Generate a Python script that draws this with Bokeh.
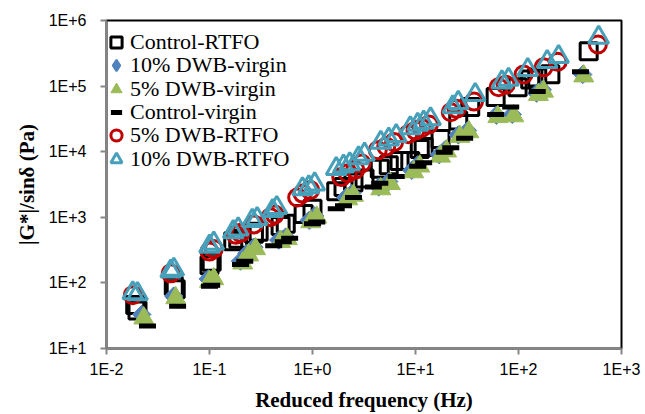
import math
from bokeh.plotting import figure
from bokeh.models import FixedTicker, CustomJSTickFormatter, Legend, LegendItem
from bokeh.embed import file_html
from bokeh.resources import INLINE

# Reduced frequency (Hz) and |G*|/sin(delta) (Pa) for each binder
ctrl_rtfo_f = [0.019, 0.020, 0.045, 0.047, 0.10, 0.105, 0.17, 0.19, 0.27, 0.30, 0.49, 0.55,
               0.82, 1.0, 1.7, 2.0, 2.5, 3.2, 4.5, 5.5, 7.0, 8.9, 11, 12, 17.5, 26, 34,
               60, 98, 130, 152, 204, 480]
ctrl_rtfo_g = [46, 38, 90, 80, 185, 210, 430, 470, 560, 600, 740, 800,
               1120, 1350, 2500, 2900, 3400, 3900, 5500, 6200, 7200, 7200, 11000, 11800, 15600, 30000, 48000,
               68000, 96000, 126000, 135000, 151000, 340000]

dwb10_virgin_f = [0.022, 0.045, 0.097, 0.20, 0.23, 0.27, 0.47, 0.55, 0.93, 1.05, 2.1, 2.4,
                  4.4, 5.5, 9.2, 10.5, 17, 19.5, 26, 32, 61, 87, 150, 170, 420]
dwb10_virgin_g = [33, 63, 115, 215, 280, 350, 450, 500, 900, 1050, 2000, 2300,
                  2900, 3500, 5200, 6300, 9000, 10800, 18000, 21000, 36000, 37000, 78000, 88000, 150000]

dwb5_virgin_f = [0.023, 0.047, 0.10, 0.11, 0.21, 0.24, 0.28, 0.49, 0.57, 0.96, 1.1, 2.2, 2.5,
                 4.6, 5.7, 9.6, 11, 17.5, 20, 27, 33, 63, 90, 156, 175, 430]
dwb5_virgin_g = [29, 59, 105, 115, 200, 265, 330, 425, 470, 850, 1000, 1900, 2150,
                 2700, 3250, 4900, 6000, 8500, 10200, 17000, 20000, 34000, 35000, 74000, 83000, 142000]

ctrl_virgin_f = [0.025, 0.049, 0.10, 0.105, 0.20, 0.22, 0.42, 0.52, 0.60, 1.0, 1.1, 1.7, 2.0,
                 2.5, 3.9, 4.5, 6.5, 10.5, 12, 19, 22, 30, 60, 84, 152, 400]
ctrl_virgin_g = [22, 44, 89, 92, 190, 213, 370, 425, 480, 800, 850, 1350, 1500,
                 2000, 2900, 3300, 4200, 6000, 6800, 9800, 11500, 16000, 37000, 48000, 83000, 166000]

dwb5_rtfo_f = [0.018, 0.042, 0.10, 0.11, 0.18, 0.20, 0.27, 0.39, 0.43, 0.71, 0.80, 0.95,
               1.9, 2.2, 2.6, 3.0, 4.3, 5.2, 6.2, 8.5, 10, 11.5, 13.5, 22, 25, 37,
               64, 75, 112, 175, 240, 590]
dwb5_rtfo_g = [65, 140, 300, 330, 540, 580, 780, 1000, 1100, 2000, 2300, 2600,
               4100, 4700, 5300, 6600, 10500, 12000, 14000, 18500, 21000, 23000, 26000, 40000, 45000, 58000,
               96000, 105000, 150000, 193000, 235000, 430000]

dwb10_rtfo_f = [0.018, 0.020, 0.042, 0.045, 0.10, 0.11, 0.17, 0.19, 0.26, 0.29, 0.41, 0.45,
                0.80, 0.92, 1.05, 1.7, 2.0, 2.3, 2.8, 3.2, 4.6, 5.5, 6.5, 8.9, 10.5, 12, 14,
                23, 26, 38, 69, 80, 123, 190, 245, 600]
dwb10_rtfo_g = [70, 68, 150, 160, 360, 400, 600, 660, 890, 950, 1260, 1400,
                2700, 2900, 3200, 5500, 6000, 6500, 8000, 9100, 13800, 15500, 17500, 23000, 26000, 28000, 31500,
                48000, 56000, 74000, 115000, 126000, 178000, 235000, 280000, 550000]

series_names = ["Control-RTFO", "10% DWB-virgin", "5% DWB-virgin",
                "Control-virgin", "5% DWB-RTFO", "10% DWB-RTFO"]

x_ticks = [0.01, 0.1, 1, 10, 100, 1000]
y_ticks = [10, 100, 1000, 10000, 100000, 1000000]

W, H = 645, 414
BORDER_L, BORDER_R, BORDER_T, BORDER_B = 106, 24, 20, 63

p = figure(width=W, height=H, x_axis_type="log", y_axis_type="log",
           x_range=(0.01, 1000), y_range=(10, 1e6),
           output_backend="svg", toolbar_location=None,
           min_border_left=BORDER_L, min_border_right=BORDER_R,
           min_border_top=BORDER_T, min_border_bottom=BORDER_B)
p.background_fill_color = "white"
p.border_fill_color = "white"
p.outline_line_color = "black"
p.outline_line_width = 2
p.xgrid.visible = False
p.ygrid.visible = False

sq = p.scatter(ctrl_rtfo_f, ctrl_rtfo_g, marker="square", size=17, fill_color=None,
               line_color="black", line_width=3)
dm = p.scatter(dwb10_virgin_f, dwb10_virgin_g, marker="square", angle=math.pi / 4, size=13,
               fill_color="#4F81BD", line_color="#4F81BD", line_width=1)
tg = p.scatter(dwb5_virgin_f, dwb5_virgin_g, marker="triangle", size=20, fill_color="#9BBB59",
               line_color="#9BBB59", line_width=1)
ds = p.scatter(ctrl_virgin_f, ctrl_virgin_g, marker="dash", size=17, line_color="black",
               line_width=5)
ci = p.scatter(dwb5_rtfo_f, dwb5_rtfo_g, marker="circle", size=17, fill_color=None,
               line_color="#C00000", line_width=3)
tr = p.scatter(dwb10_rtfo_f, dwb10_rtfo_g, marker="triangle", size=20, fill_color=None,
               line_color="#46A0BA", line_width=3)

# hidden twin of the diamond series, used only for its legend swatch
# (legend swatches are drawn unrotated, so the rotated square would show as a square)
dm_key = p.scatter(dwb10_virgin_f, dwb10_virgin_g, marker="diamond", size=13,
                   fill_color="#4F81BD", line_color="#4F81BD", line_width=2, visible=False)

tick_fmt = CustomJSTickFormatter(code="""
    const e = Math.round(Math.log10(tick));
    return "1E" + (e < 0 ? "-" : "+") + Math.abs(e);
""")

for ax, ticks in ((p.xaxis[0], x_ticks), (p.yaxis[0], y_ticks)):
    ax.ticker = FixedTicker(ticks=ticks)
    ax.formatter = tick_fmt
    ax.axis_line_color = "#868686"
    ax.axis_line_width = 2
    ax.major_tick_line_color = "#868686"
    ax.major_tick_line_width = 2
    ax.major_tick_out = 6
    ax.major_tick_in = 0
    ax.minor_tick_line_color = None
    ax.major_label_text_font = "Liberation Sans"
    ax.major_label_text_font_size = "16px"
    ax.major_label_text_color = "black"
    ax.axis_label_text_font = "Liberation Serif"
    ax.axis_label_text_font_style = "bold"
    ax.axis_label_text_font_size = "21px"
    ax.axis_label_text_color = "black"

p.xaxis.axis_label = "Reduced frequency (Hz)"
p.yaxis.axis_label = "|G*|/sinδ (Pa)"
p.xaxis.major_label_standoff = 6
p.xaxis.axis_label_standoff = 7
p.yaxis.major_label_standoff = 14
p.yaxis.axis_label_standoff = 7

# One single-row legend per series, stacked with a fixed row pitch so the
# legend markers can stay large while the rows sit close together.
frame_h = H - BORDER_T - BORDER_B
row_pitch = 23.3
first_row_center = 25          # below the top of the frame
glyph_w, glyph_h = 28, 30
for i, (name, r) in enumerate(zip(series_names, [sq, dm_key, tg, ds, ci, tr])):
    center = first_row_center + i * row_pitch
    leg = Legend(items=[LegendItem(label=name, renderers=[r])],
                 location=(-4, round(frame_h - center - glyph_h / 2)))
    leg.label_text_font = "Liberation Serif"
    leg.label_text_font_size = "22px"
    leg.label_text_color = "black"
    leg.glyph_width = glyph_w
    leg.glyph_height = glyph_h
    leg.label_height = glyph_h
    leg.label_standoff = 0
    leg.spacing = 0
    leg.padding = 0
    leg.margin = 0
    leg.border_line_color = None
    leg.background_fill_alpha = 0
    leg.inactive_fill_alpha = 0
    p.add_layout(leg)

open("out.html", "w").write(file_html(p, INLINE))
